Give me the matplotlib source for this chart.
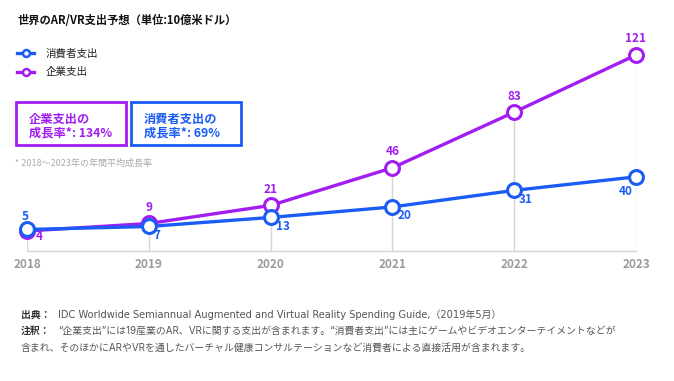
import matplotlib.pyplot as plt
from matplotlib.lines import Line2D
from matplotlib.patches import Rectangle

plt.rcParams['font.family'] = ['Noto Sans CJK JP', 'DejaVu Sans']
FOOT = ['Inter', 'Noto Sans CJK JP']
FOOT_WIDE = ['DejaVu Sans', 'Noto Sans CJK JP']

years = [2018, 2019, 2020, 2021, 2022, 2023]
consumer = [5, 7, 13, 20, 31, 40]
enterprise = [4, 9, 21, 46, 83, 121]
series_names = ['消費者支出', '企業支出']
growth_enterprise = '134%'
growth_consumer = '69%'

BLUE = '#1a5cf5'
PURPLE = '#a11df2'
GREY = '#9a9a9a'
LGREY = '#d4d4d4'

W, H = 674, 381
def fx(px):
    return px / W
def fy(py):
    return 1 - py / H

fig = plt.figure(figsize=(6.74, 3.81), dpi=100)
ax = fig.add_axes([fx(27), fy(251), (636 - 27) / W, (251 - 55) / H])
ymin = -9.3
ax.set_xlim(years[0], years[-1])
ax.set_ylim(ymin, max(enterprise))

# drop lines
tops = [max(a, b) for a, b in zip(consumer, enterprise)]
ax.vlines(years, ymin, tops, color=LGREY, lw=1.0, zorder=1)

mk = dict(marker='o', ms=10, mfc='white', mew=2.2, lw=2.4, clip_on=False, zorder=3)
ax.plot(years, enterprise, color=PURPLE, **mk)
ax.plot(years, consumer, color=BLUE, **mk)

lab = dict(fontsize=8.5, fontweight='bold', textcoords='offset pixels', va='center')
for x, v in zip(years, enterprise):
    if x == 2018:
        ax.annotate(str(v), (x, v), xytext=(12, -6), color=PURPLE, ha='center', **lab)
    else:
        ax.annotate(str(v), (x, v), xytext=(0, 16), color=PURPLE, ha='center', **lab)
for x, v in zip(years, consumer):
    if x == 2018:
        ax.annotate(str(v), (x, v), xytext=(-2, 13), color=BLUE, ha='center', **lab)
    elif x == 2023:
        ax.annotate(str(v), (x, v), xytext=(-10, -15), color=BLUE, ha='center', **lab)
    else:
        ax.annotate(str(v), (x, v), xytext=(5, -9), color=BLUE, ha='left', **lab)

for s in ['top', 'right', 'left']:
    ax.spines[s].set_visible(False)
ax.spines['bottom'].set_color(LGREY)
ax.spines['bottom'].set_linewidth(1.0)
ax.set_yticks([])
ax.set_xticks(years)
ax.set_xticklabels([str(y) for y in years], fontsize=8.5, fontweight='bold', color=GREY)
ax.tick_params(axis='x', length=0, pad=5)

# title
fig.text(fx(18), fy(20), '世界のAR/VR支出予想（単位:10億米ドル）', fontsize=8.1, fontweight='bold',
         color='#111111', va='center', ha='left')

# legend
for i, (name, c) in enumerate(zip(series_names, [BLUE, PURPLE])):
    yy = fy(53 + 19 * i)
    fig.add_artist(Line2D([fx(17), fx(34)], [yy, yy], color=c, lw=2.4, transform=fig.transFigure))
    fig.add_artist(Line2D([fx(25.5)], [yy], marker='o', ms=5, mfc='white', mec=c, mew=1.8,
                          transform=fig.transFigure))
    fig.text(fx(46), yy, name, fontsize=7.6, color='#222222', va='center', ha='left')

# growth boxes
boxes = [(16, 126, PURPLE, '企業支出の', '成長率*: ' + growth_enterprise),
         (131, 241, BLUE, '消費者支出の', '成長率*: ' + growth_consumer)]
for x0, x1, c, l1, l2 in boxes:
    fig.add_artist(Rectangle((fx(x0), fy(145)), (x1 - x0) / W, (145 - 102) / H, fill=False,
                             edgecolor=c, lw=2.0, transform=fig.transFigure))
    fig.text(fx(x0 + 13), fy(119), l1, fontsize=8.8, fontweight='bold', color=c, va='center')
    fig.text(fx(x0 + 13), fy(133), l2, fontsize=8.8, fontweight='bold', color=c, va='center')

fig.text(fx(15), fy(163), '* 2018〜2023年の年間平均成長率', fontsize=6.5, color='#aaaaaa', va='center')

# footer
fs = 7.1
fig.text(fx(21), fy(315), '出典：', fontsize=fs, fontweight='bold', color='#333333', va='center')
fig.text(fx(58), fy(315), 'IDC Worldwide Semiannual Augmented and Virtual Reality Spending Guide,（2019年5月）',
         fontsize=fs, color='#555555', va='center', family=FOOT_WIDE)
fig.text(fx(21), fy(331), '注釈：', fontsize=fs, fontweight='bold', color='#333333', va='center')
fig.text(fx(58), fy(331), '“企業支出”には19産業のAR、VRに関する支出が含まれます。“消費者支出”には主にゲームやビデオエンターテイメントなどが',
         fontsize=fs, color='#555555', va='center', family=FOOT)
fig.text(fx(21), fy(348), '含まれ、そのほかにARやVRを通したバーチャル健康コンサルテーションなど消費者による直接活用が含まれます。',
         fontsize=fs, color='#555555', va='center', family=FOOT)

fig.savefig('out.png', dpi=100, facecolor='white')
